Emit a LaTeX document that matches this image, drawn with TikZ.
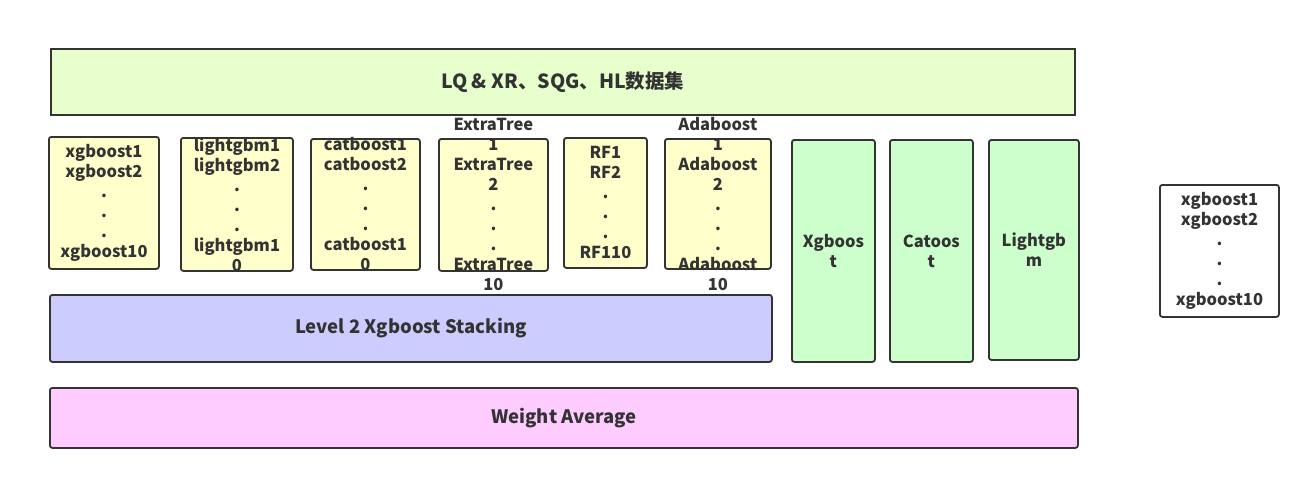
\documentclass[tikz,border=0pt]{standalone}
\usepackage{fontspec}
\setmainfont{Noto Sans CJK SC}
\usetikzlibrary{positioning}

\definecolor{edgegray}{HTML}{333333}
\definecolor{datafill}{HTML}{E6FFCC}
\definecolor{basefill}{HTML}{FFFFCC}
\definecolor{stackfill}{HTML}{CCCCFF}
\definecolor{avgfill}{HTML}{FFCCFF}
\definecolor{modelfill}{HTML}{CCFFCC}

\tikzset{
  box/.style={draw=edgegray, line width=1.8pt, rounded corners=2.5pt, anchor=north west,
    inner sep=0pt, text=edgegray, align=center, font=\bfseries\fontsize{16.5}{20}\selectfont},
  databox/.style={box, fill=datafill, sharp corners, font=\bfseries\fontsize{19.5}{24}\selectfont},
  basebox/.style={box, fill=basefill},
  stackbox/.style={box, fill=stackfill, font=\bfseries\fontsize{18.5}{22}\selectfont},
  avgbox/.style={box, fill=avgfill, font=\bfseries\fontsize{18.5}{22}\selectfont},
  modelbox/.style={box, fill=modelfill},
  plainbox/.style={box, fill=white},
  txt/.style={text=edgegray, align=center, inner sep=0pt, font=\bfseries\fontsize{16.5}{20}\selectfont}
}

\begin{document}
\begin{tikzpicture}[x=1pt,y=-1pt]
\useasboundingbox (0,0) rectangle (1309,479);

% data set
\node[databox, minimum width=1024pt, minimum height=66pt] (data) at (50,48) {LQ \& XR、SQG、HL数据集};

% level 1 models
\node[basebox, minimum width=110pt, minimum height=132pt] (xgb) at (48,136) {};
\node[basebox, minimum width=112pt, minimum height=133pt] (lgb) at (180,137) {};
\node[basebox, minimum width=109pt, minimum height=131pt] (cat) at (310,138) {};
\node[basebox, minimum width=109pt, minimum height=132pt] (et) at (438,138) {};
\node[basebox, minimum width=83pt, minimum height=130pt] (rf) at (563,137) {};
\node[basebox, minimum width=106pt, minimum height=130pt] (ada) at (664,138) {};

\node[txt] (xgbtxt) at (xgb.center) {xgboost1\\xgboost2\\.\\.\\.\\xgboost10};
\node[txt] (lgbtxt) at (lgb.center) {lightgbm1\\lightgbm2\\.\\.\\.\\lightgbm1\\0};
\node[txt] (cattxt) at (cat.center) {catboost1\\catboost2\\.\\.\\.\\catboost1\\0};
\node[txt] (ettxt) at (et.center) {ExtraTree\\1\\ExtraTree\\2\\.\\.\\.\\ExtraTree\\10};
\node[txt] (rftxt) at (rf.center) {RF1\\RF2\\.\\.\\.\\RF110};
\node[txt] (adatxt) at (ada.center) {Adaboost\\1\\Adaboost\\2\\.\\.\\.\\Adaboost\\10};

% level 2
\node[stackbox, minimum width=722pt, minimum height=67pt] (stack) at (49,294) {Level 2 Xgboost Stacking};

% single models
\node[modelbox, minimum width=83pt, minimum height=222pt] (sxgb) at (791,139) {Xgboos\\t};
\node[modelbox, minimum width=83pt, minimum height=222pt] (scat) at (889,139) {Catoos\\t};
\node[modelbox, minimum width=90pt, minimum height=220pt] (slgb) at (988,139) {Lightgb\\m};

% final
\node[avgbox, minimum width=1028pt, minimum height=60pt] (avg) at (49,387) {Weight Average};

\node[plainbox, minimum width=119pt, minimum height=132pt] (side) at (1159,184) {xgboost1\\xgboost2\\.\\.\\.\\xgboost10};
\end{tikzpicture}
\end{document}
